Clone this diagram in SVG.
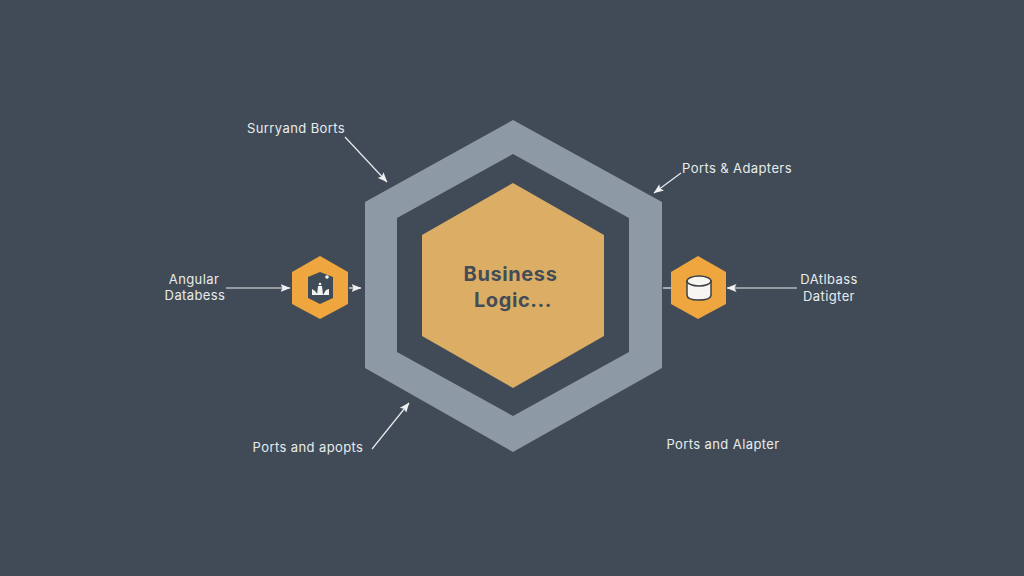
<svg xmlns="http://www.w3.org/2000/svg" width="1024" height="576" viewBox="0 0 1024 576">
<style>
.lbl{font-family:"Inter","Open Sans","Liberation Sans",sans-serif;font-size:13px;letter-spacing:.4px;fill:#e8ebec;text-anchor:middle}
.title{font-family:"Inter","Open Sans","Liberation Sans",sans-serif;font-size:20px;letter-spacing:.6px;font-weight:700;fill:#434c57;text-anchor:middle}
.con{stroke:#e8ebec;stroke-width:1.2;fill:none}
.badge{fill:#f0a63f}
</style>
<defs>
<marker id="ah" viewBox="0 0 10 8" refX="9.500" refY="4" markerWidth="10" markerHeight="8" markerUnits="userSpaceOnUse" orient="auto"><path d="M0 0L10 4L0 8L2 4Z" fill="#eef0f1"/></marker>
</defs>
<rect width="1024" height="576" fill="#404b57"/>
<g id="ports-ring"><path fill="#8e9aa3" fill-rule="evenodd" d="M513 120L662 202V368L513 452L365 368V202ZM513 154L397 218V352L513 416L629 352V218Z"/></g>
<g id="business-logic">
<polygon points="513,183 604,235 604,336 513,388 422,336 422,235" fill="#dcae65"/>
<text class="title" x="510.500" y="281">Business</text>
<text class="title" x="513" y="307">Logic...</text>
</g>
<g id="connectors">
<line class="con" x1="345" y1="137" x2="387" y2="182" marker-end="url(#ah)"/>
<line class="con" x1="681" y1="173" x2="654" y2="193" marker-end="url(#ah)"/>
<line class="con" x1="372" y1="449" x2="409" y2="403" marker-end="url(#ah)"/>
<line class="con" x1="226" y1="288" x2="290" y2="288" marker-end="url(#ah)"/>
<line class="con" x1="349" y1="288" x2="361" y2="288" marker-end="url(#ah)"/>
<line class="con" x1="797" y1="288" x2="727" y2="288" marker-end="url(#ah)"/>
<line class="con" x1="663" y1="288" x2="671" y2="288"/>
</g>
<g id="angular-node">
<polygon class="badge" points="320,256 348,272 348,304 320,319 292,304 292,272"/>
<polygon points="320,272 333,277 333,298 320,304 308,298 308,277" fill="#3f4b57"/>
<circle cx="327" cy="277" r="1.800" fill="#f3f3f0"/>
<path d="M312 295V289L315 291L318 295ZM317 295L318 286H322L323 295ZM323 295L326 290L329 289V295Z" fill="#f3f3f0"/>
<circle cx="320" cy="284" r="1.300" fill="#f3f3f0"/>
</g>
<g id="database-node">
<polygon class="badge" points="698,256 726,272 726,304 698,319 671,304 671,272"/>
<path d="M687 281V295Q687 300 698.500 300Q711 300 711 295V281Z" fill="#f7f6f2" stroke="#3b4147" stroke-width="1.500"/>
<ellipse cx="699" cy="281" rx="12" ry="5" fill="#f7f6f2" stroke="#3b4147" stroke-width="1.500"/>
</g>
<g id="labels">
<text class="lbl" x="296" y="133">Surryand Borts</text>
<text class="lbl" x="737" y="173">Ports &amp; Adapters</text>
<text class="lbl" x="194" y="284">Angular</text>
<text class="lbl" x="195" y="300">Databess</text>
<text class="lbl" x="829" y="284">DAtlbass</text>
<text class="lbl" x="829" y="301">Datigter</text>
<text class="lbl" x="308" y="452">Ports and apopts</text>
<text class="lbl" x="723" y="449">Ports and Alapter</text>
</g>
</svg>
